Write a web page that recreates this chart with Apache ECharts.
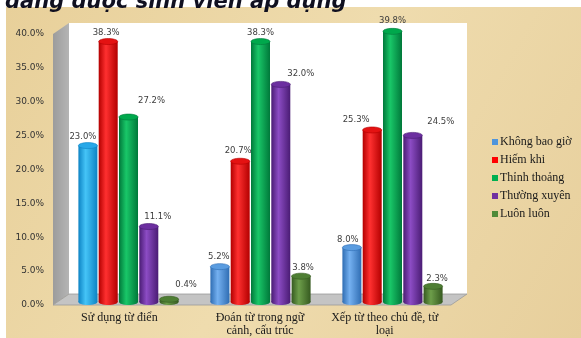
<!DOCTYPE html>
<html>
<head>
<meta charset="utf-8">
<script src="https://cdn.jsdelivr.net/npm/echarts/dist/echarts.min.js"></script>
<style>
  html, body { margin: 0; padding: 0; background: #ffffff; }
  #chart { width: 581px; height: 338px; }
</style>
</head>
<body>
<div id="chart"></div>
<script>
// Survey results: how often each vocabulary strategy is used (percent of students)
const categories = ['Sử dụng từ điển', 'Đoán từ trong ngữ\ncảnh, cấu trúc', 'Xếp từ theo chủ đề, từ\nloại'];
const seriesNames = ['Không bao giờ', 'Hiếm khi', 'Thỉnh thoảng', 'Thường xuyên', 'Luôn luôn'];
const neverValues = [23.0, 5.2, 8.0];
const rarelyValues = [38.3, 20.7, 25.3];
const sometimesValues = [27.2, 38.3, 39.8];
const oftenValues = [11.1, 32.0, 24.5];
const alwaysValues = [0.4, 3.8, 2.3];
const yMin = 0, yMax = 40, yStep = 5;
const titleText = 'đang được sinh viên áp dụng';

const allValues = [neverValues, rarelyValues, sometimesValues, oftenValues, alwaysValues];

// ---- styling ----
const legendColors = ['#4f95dc', '#ff0000', '#00b050', '#7030a0', '#4f8a38'];
const cylinderPalette = [
  [{ dark: '#0d83c4', light: '#45c4f7', cap: '#27a8e8' },
   { dark: '#2f6db3', light: '#74b0f0', cap: '#5a9ce0' },
   { dark: '#2f6db3', light: '#74b0f0', cap: '#5a9ce0' }],
  { dark: '#b30000', light: '#ff3030', cap: '#e41212' },
  { dark: '#00783a', light: '#19c768', cap: '#00a84c' },
  { dark: '#4a1c74', light: '#8c4cc4', cap: '#6c2fa0' },
  { dark: '#365a20', light: '#6d9e4a', cap: '#4e7e33' }
];
// value-label nudges [dx, dy] per series and category
const labelNudges = [
  [[-5, 1], [-1, 0], [-4, 2]],
  [[-2, 1], [-2, 0], [-16, 0]],
  [[23, -6], [0, 1], [0, -1]],
  [[9, 0], [20, -1], [28, -4]],
  [[17, -4], [2, 2], [4, 2]]
];
const BAR_W = 19, BAR_STEP = 20.3, CAP_RY = 3;

// front plane of the 3D box and its depth offset
const FRONT = { l: 53, r: 451, t: 34, b: 305 };
const DEPTH = { dx: 16, dy: -11 };

function paletteFor(si, ci) {
  const p = cylinderPalette[si];
  return Array.isArray(p) ? p[ci] : p;
}

function cylinderRenderer(si) {
  return function (params, api) {
    const ci = api.value(0);
    const v = api.value(1);
    const base = api.coord([ci, 0]);
    const top = api.coord([ci, v]);
    const cx = base[0] + (si - 2) * BAR_STEP;
    const pal = paletteFor(si, ci);
    const body = new echarts.graphic.LinearGradient(0, 0, 1, 0, [
      { offset: 0, color: pal.dark },
      { offset: 0.38, color: pal.light },
      { offset: 1, color: pal.dark }
    ]);
    const nudge = labelNudges[si][ci];
    return {
      type: 'group',
      children: [
        { type: 'ellipse', shape: { cx: cx, cy: base[1], rx: BAR_W / 2, ry: CAP_RY }, style: { fill: body } },
        { type: 'rect', shape: { x: cx - BAR_W / 2, y: top[1], width: BAR_W, height: Math.max(0, base[1] - top[1]) }, style: { fill: body } },
        { type: 'ellipse', shape: { cx: cx, cy: top[1], rx: BAR_W / 2, ry: CAP_RY },
          style: { fill: pal.cap, stroke: pal.dark, lineWidth: 0.6 } },
        { type: 'text', x: cx + nudge[0], y: top[1] - 10 + nudge[1],
          style: { text: v.toFixed(1) + '%', font: '8.5px "DejaVu Sans"', fill: '#3c3c3c',
                   textAlign: 'center', textVerticalAlign: 'middle', align: 'center', verticalAlign: 'middle' } }
      ]
    };
  };
}

const series = seriesNames.map(function (name, si) {
  return {
    type: 'custom',
    name: name,
    xAxisIndex: 1,
    yAxisIndex: 1,
    itemStyle: { color: legendColors[si] },
    renderItem: cylinderRenderer(si),
    encode: { x: 0, y: 1 },
    data: allValues[si].map(function (v, ci) { return [ci, v]; }),
    z: 5
  };
});

const boxGraphics = [
  // parchment backdrop
  { type: 'rect', z: -10, shape: { x: 6, y: 7, width: 575, height: 331 },
    style: { fill: new echarts.graphic.LinearGradient(0, 0, 1, 1, [
      { offset: 0, color: '#e8d09a' }, { offset: 0.5, color: '#efdcae' }, { offset: 1, color: '#e7cf9c' }]) } },
  // back wall
  { type: 'rect', z: -5, shape: { x: FRONT.l + DEPTH.dx, y: FRONT.t + DEPTH.dy, width: FRONT.r - FRONT.l, height: FRONT.b - FRONT.t },
    style: { fill: '#ffffff' } },
  // side wall
  { type: 'polygon', z: -4, shape: { points: [[FRONT.l, FRONT.t], [FRONT.l + DEPTH.dx, FRONT.t + DEPTH.dy],
      [FRONT.l + DEPTH.dx, FRONT.b + DEPTH.dy], [FRONT.l, FRONT.b]] },
    style: { fill: new echarts.graphic.LinearGradient(0, 0, 1, 0, [{ offset: 0, color: '#9c9c9c' }, { offset: 1, color: '#b4b4b4' }]) } },
  // floor
  { type: 'polygon', z: -3, shape: { points: [[FRONT.l, FRONT.b], [FRONT.l + DEPTH.dx, FRONT.b + DEPTH.dy],
      [FRONT.r + DEPTH.dx, FRONT.b + DEPTH.dy], [FRONT.r, FRONT.b]] },
    style: { fill: '#c4c4c4', stroke: '#9a9a9a', lineWidth: 0.8 } },
  // heading, partly above the frame
  { type: 'text', z: 50, x: 5, y: 13,
    style: { text: titleText, font: 'italic bold 21px "DejaVu Sans"', fill: '#101020',
             textAlign: 'left', textVerticalAlign: 'bottom', align: 'left', verticalAlign: 'bottom' } }
];

const labelFont = { fontFamily: '"Liberation Serif", "DejaVu Serif", serif', fontSize: 12, color: '#1a1a1a' };

const option = {
  animation: false,
  backgroundColor: '#ffffff',
  graphic: { elements: boxGraphics },
  legend: {
    orient: 'vertical',
    left: 487,
    top: 130,
    itemWidth: 6,
    itemHeight: 6,
    itemGap: 4,
    icon: 'rect',
    textStyle: { fontFamily: labelFont.fontFamily, fontSize: 12, color: '#1a1a1a', lineHeight: 14, padding: [0, 0, 0, -3] },
    data: seriesNames
  },
  grid: [
    { left: FRONT.l, top: FRONT.t, width: FRONT.r - FRONT.l, height: FRONT.b - FRONT.t },
    { left: 62.5, top: 30, width: 396, height: 272 }
  ],
  xAxis: [
    { type: 'category', gridIndex: 0, data: categories,
      axisLine: { show: false }, axisTick: { show: false }, splitLine: { show: false },
      axisLabel: {
        interval: 0, margin: 6, lineHeight: 13,
        fontFamily: labelFont.fontFamily, fontSize: labelFont.fontSize, color: labelFont.color,
        formatter: function (v, i) {
          if (i === 1) return v.split('\n').map(function (l) { return '{s|' + l + '}'; }).join('\n');
          return v;
        },
        rich: { s: { padding: [0, 0, 0, 16], fontFamily: labelFont.fontFamily, fontSize: labelFont.fontSize, color: labelFont.color, lineHeight: 13 } }
      } },
    { type: 'category', gridIndex: 1, data: categories, show: false }
  ],
  yAxis: [
    { type: 'value', gridIndex: 0, min: yMin, max: yMax, interval: yStep,
      axisLine: { show: false }, axisTick: { show: false }, splitLine: { show: false },
      axisLabel: { margin: 9, fontFamily: '"DejaVu Sans"', fontSize: 9, color: '#333333',
                   formatter: function (v) { return v.toFixed(1) + '%'; } } },
    { type: 'value', gridIndex: 1, min: yMin, max: yMax, interval: yStep, show: false }
  ],
  series: series
};

const chart = echarts.init(document.getElementById('chart'), null, { renderer: 'canvas' });
chart.setOption(option);
</script>
</body>
</html>
